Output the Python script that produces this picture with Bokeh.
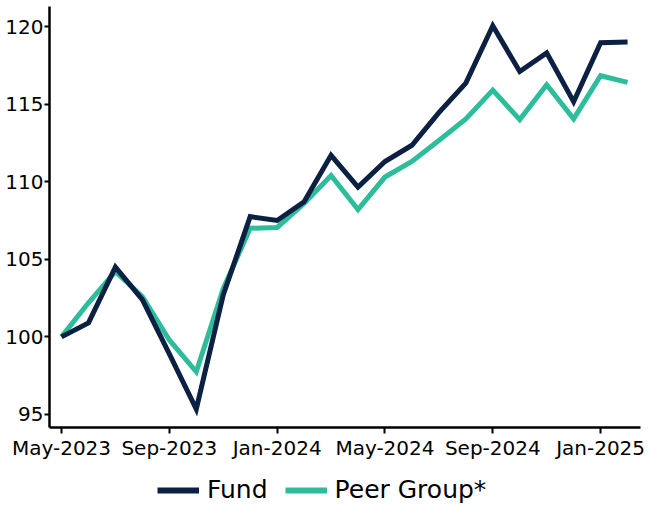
from bokeh.plotting import figure
from bokeh.layouts import column
from bokeh.models import (ColumnDataSource, FixedTicker, Legend, LegendItem, Range1d)
from bokeh.embed import file_html
from bokeh.resources import INLINE

months = ["May-2023", "Jun-2023", "Jul-2023", "Aug-2023", "Sep-2023", "Oct-2023",
          "Nov-2023", "Dec-2023", "Jan-2024", "Feb-2024", "Mar-2024", "Apr-2024",
          "May-2024", "Jun-2024", "Jul-2024", "Aug-2024", "Sep-2024", "Oct-2024",
          "Nov-2024", "Dec-2024", "Jan-2025", "Feb-2025"]
fund = [100.0, 100.9, 104.5, 102.4, 98.9, 95.35, 102.7, 107.75, 107.5, 108.7,
        111.7, 109.65, 111.3, 112.35, 114.45, 116.35, 120.05, 117.1, 118.3, 115.15,
        118.95, 119.0]
peer = [100.0, 102.2, 104.2, 102.6, 99.8, 97.75, 103.1, 107.0, 107.05, 108.6,
        110.4, 108.2, 110.3, 111.3, 112.65, 114.05, 115.9, 114.0, 116.25, 114.05,
        116.83, 116.4]
tick_labels = ["May-2023", "Sep-2023", "Jan-2024", "May-2024", "Sep-2024", "Jan-2025"]
y_ticks = [95, 100, 105, 110, 115, 120]
series_names = ["Fund", "Peer Group*"]

FUND_COLOR = "#0b2042"
PEER_COLOR = "#2ebd9b"
FONT = "DejaVu Sans"
LW = 5

x = list(range(len(months)))
src = ColumnDataSource(dict(x=x, fund=fund, peer=peer, month=months))

p = figure(width=649, height=462, output_backend="svg", toolbar_location=None,
           x_range=Range1d(-0.445, 21.48), y_range=Range1d(94.16, 121.29),
           min_border_left=49, min_border_right=9, min_border_top=6,
           min_border_bottom=34)
p.outline_line_color = None
p.grid.visible = False

p.line("x", "peer", source=src, line_color=PEER_COLOR, line_width=LW,
       line_join="miter")
p.line("x", "fund", source=src, line_color=FUND_COLOR, line_width=LW,
       line_join="miter")

tick_pos = [months.index(t) for t in tick_labels]
p.xaxis.ticker = FixedTicker(ticks=tick_pos)
p.xaxis.major_label_overrides = {i: months[i] for i in tick_pos}
p.yaxis.ticker = FixedTicker(ticks=y_ticks)

for ax in (p.xaxis[0], p.yaxis[0]):
    ax.axis_line_color = "black"
    ax.axis_line_width = 2.5
    ax.major_tick_line_color = "black"
    ax.major_tick_line_width = 2
    ax.major_tick_in = 0
    ax.minor_tick_line_color = None
    ax.major_label_text_font = FONT
    ax.major_label_text_font_size = "20px"
    ax.major_label_text_color = "black"

p.xaxis.major_tick_out = 6
p.xaxis.major_label_standoff = 2
p.yaxis.major_tick_out = 5
p.yaxis.major_label_standoff = 1

# legend strip below the chart (its own lines lie outside its view)
leg = figure(width=649, height=44, output_backend="svg", toolbar_location=None,
             x_axis_location=None, y_axis_location=None,
             x_range=Range1d(-100, -99), y_range=Range1d(-100, -99),
             min_border_left=0, min_border_right=0, min_border_top=0,
             min_border_bottom=0)
leg.outline_line_color = None
leg.grid.visible = False
lr_fund = leg.line("x", "fund", source=src, line_color=FUND_COLOR, line_width=6)
lr_peer = leg.line("x", "peer", source=src, line_color=PEER_COLOR, line_width=6)

legend = Legend(items=[LegendItem(label=series_names[0], renderers=[lr_fund]),
                       LegendItem(label=series_names[1], renderers=[lr_peer])],
                orientation="horizontal", location=(108, 2),
                label_text_font=FONT, label_text_font_size="25px",
                label_text_color="black",
                label_standoff=8, spacing=17, glyph_width=42, glyph_height=28,
                label_height=28, padding=0, margin=0, border_line_color=None,
                background_fill_alpha=0)
leg.add_layout(legend, "center")

layout = column(p, leg, spacing=0)
open("out.html", "w").write(file_html(layout, INLINE))
